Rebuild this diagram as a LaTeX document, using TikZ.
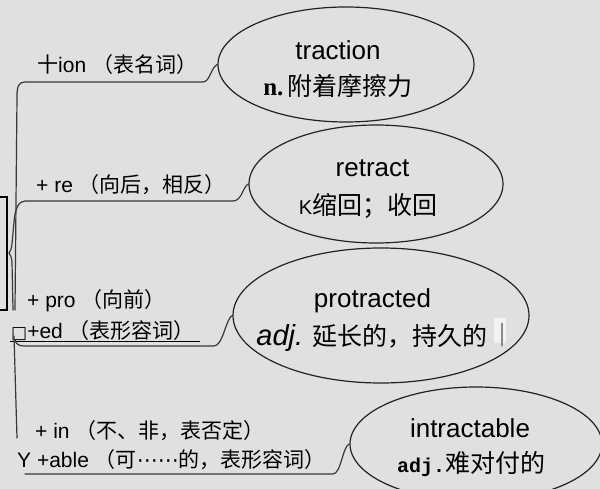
\documentclass[tikz,border=0pt]{standalone}
\usepackage{fontspec}
\setmainfont{Liberation Sans}
\newfontfamily\zhf{Noto Sans CJK SC}
\newfontfamily\serb{Liberation Serif}
\newfontfamily\monof{Liberation Mono}
\newfontfamily\djv{DejaVu Sans}
\usetikzlibrary{shapes.geometric}
\definecolor{bg}{RGB}{224,224,224}
\definecolor{ink}{RGB}{34,34,34}
\tikzset{
  ell/.style={draw=ink, line width=1.2pt, ellipse, inner sep=0pt},
  branch/.style={draw=ink!90, line width=1.2pt, line cap=round, line join=round},
  word/.style={font=\fontsize{26}{30}\selectfont, anchor=base, inner sep=0pt},
  gloss/.style={font=\fontsize{25}{30}\selectfont, anchor=base, inner sep=0pt},
  lab/.style={font=\fontsize{21}{24}\selectfont, anchor=base west, inner sep=0pt},
}
\begin{document}
\begin{tikzpicture}[x=1pt,y=-1pt]
\useasboundingbox (0,0) rectangle (600,489);
\fill[bg] (0,0) rectangle (600,489);
\clip (0,0) rectangle (600,489);

% ellipses
\node[ell, minimum width=256pt, minimum height=115pt] (e1) at (346,64.5) {};
\node[ell, minimum width=254pt, minimum height=118pt] (e2) at (376,184) {};
\node[ell, minimum width=296pt, minimum height=135pt] (e3) at (381,315.5) {};
\node[ell, minimum width=252pt, minimum height=114pt] (e4) at (476,444) {};

% ellipse texts
\node[word] (w1) at (338,60) {traction};
\node[gloss] (g1) at (338,96) {{\serb\bfseries n.}\,{\zhf 附着摩擦力}};
\node[word] (w2) at (372.5,177) {retract};
\node[gloss] (g2) at (368,215) {{\fontsize{20}{24}\selectfont K}{\zhf 缩回；收回}};
\node[word] (w3) at (372.5,308) {protracted};
\node[gloss] (g3) at (372,345) {{\itshape\fontsize{29}{32}\selectfont adj.} {\zhf 延长的，持久的}};
\fill[white!60!bg] (494,318) rectangle (506,343);
\node[gloss, text=black!45] (bar) at (502,341) {|};
\node[word] (w4) at (470,437) {intractable};
\node[gloss] (g4) at (471,472) {{\monof\bfseries\fontsize{20}{24}\selectfont adj.}{\zhf 难对付的}};

% branch labels
\node[lab] (l1) at (37,73) {{\zhf 十}ion {\zhf （表名词）}};
\node[lab] (l2) at (36,193) {+ re {\zhf （向后，相反）}};
\node[lab] (l3) at (27,308) {+ pro {\zhf （向前）}};
\node[lab] (l4) at (11,338) {{\djv\fontsize{17}{20}\selectfont □}+ed {\zhf （表形容词）}};
\node[lab] (l5) at (35,438) {+ in {\zhf （不、非，表否定）}};
\node[lab] (l6) at (17,467) {Y +able {\zhf （可}{\djv ⋯⋯}{\zhf 的，表形容词）}};

% underline under the +ed label
\coordinate (u1) at (10,341);
\coordinate (u2) at (200,341);
\draw[line width=0.9pt] (u1) -- (u2);

% left box
\draw[line width=1.1pt] (0,197) -- (7,197) -- (7,310) -- (0,310);

% branches
\draw[branch] (e1.west) .. controls (211,67) and (210,82) .. (203,82)
  -- (25,82) .. controls (19,82) and (17,86) .. (17,96) -- (15,310);
\draw[branch] (e2.west) .. controls (243,186) and (242,201) .. (233,201)
  -- (25,201) .. controls (19,201) and (15,208) .. (14,222) -- (12,244)
  .. controls (11,250) .. (9,253) .. controls (11,256) .. (12,262) -- (13,310);
\draw[branch] (e3.west) .. controls (226,318) and (223,346) .. (214,346)
  -- (24,346) .. controls (19,346) and (16,344) .. (15,340);
\draw[branch] (14,336) -- (17,438);
\draw[branch] (e4.west) .. controls (343,445) and (341,474) .. (333,474) -- (25,474);
\end{tikzpicture}
\end{document}
